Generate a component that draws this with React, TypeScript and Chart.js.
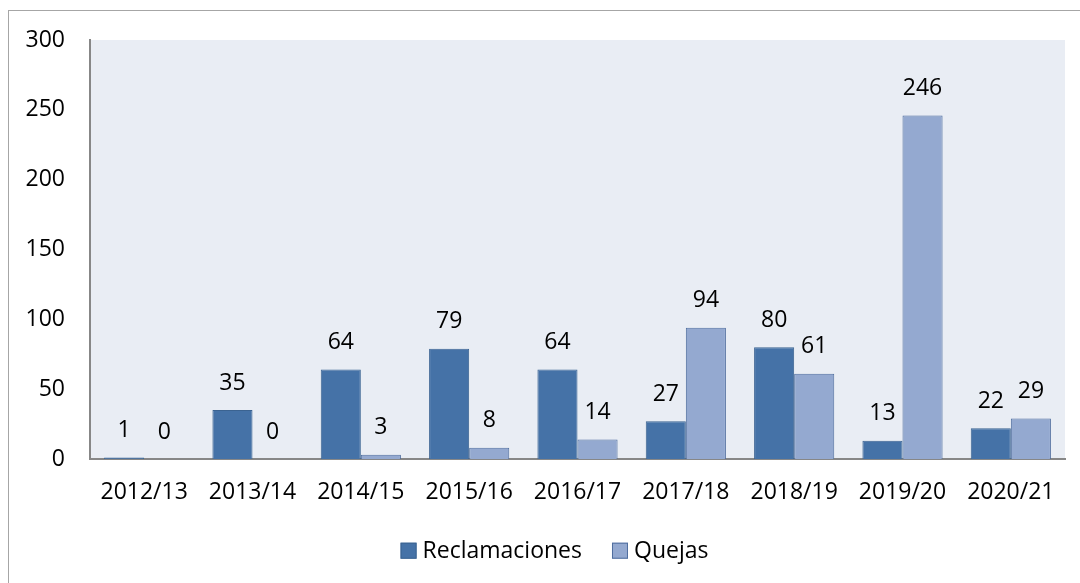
import React, { useEffect, useRef } from "react";
import { Chart, registerables } from "chart.js";

Chart.register(...registerables);

const categories = ["2012/13", "2013/14", "2014/15", "2015/16", "2016/17", "2017/18", "2018/19", "2019/20", "2020/21"];
const reclamaciones = [1, 35, 64, 79, 64, 27, 80, 13, 22];
const quejas = [0, 0, 3, 8, 14, 94, 61, 246, 29];

const FONT = "'Open Sans', 'Noto Sans', sans-serif";
const FS = 23;

const bgPlugin = {
  id: "plotBg",
  beforeDraw(chart: any) {
    const { ctx, chartArea } = chart;
    ctx.save();
    ctx.fillStyle = "#E9EDF4";
    ctx.fillRect(chartArea.left, chartArea.top, chartArea.right - chartArea.left, chartArea.bottom - chartArea.top);
    ctx.restore();
  },
};

const labelPlugin = {
  id: "barLabels",
  afterDatasetsDraw(chart: any) {
    const { ctx } = chart;
    ctx.save();
    ctx.font = `${FS}px ${FONT}`;
    ctx.fillStyle = "#000";
    ctx.textAlign = "center";
    ctx.textBaseline = "middle";
    chart.data.datasets.forEach((ds: any, i: number) => {
      const meta = chart.getDatasetMeta(i);
      meta.data.forEach((el: any, j: number) => {
        ctx.fillText(String(ds.data[j]), el.x, el.y - 27);
      });
    });
    ctx.restore();
  },
};

// Legend drawn below the axis, Excel-style (tight box-to-text gap)
const legendPlugin = {
  id: "bottomLegend",
  afterDraw(chart: any) {
    const { ctx, width } = chart;
    const box = 16;
    const gapText = 6;
    const gapItem = 30;
    ctx.save();
    ctx.font = `${FS}px ${FONT}`;
    const items = chart.data.datasets.map((ds: any) => ({
      label: ds.label,
      fill: ds.backgroundColor,
      stroke: ds.borderColor,
      w: ctx.measureText(ds.label).width,
    }));
    const total = items.reduce((s: number, it: any) => s + box + gapText + it.w, 0) + gapItem * (items.length - 1);
    let x = width / 2 + 10.5 - total / 2;
    const cy = chart.scales.x.bottom + 41.7;
    ctx.textBaseline = "middle";
    ctx.textAlign = "left";
    items.forEach((it: any) => {
      ctx.fillStyle = it.fill;
      ctx.fillRect(x, cy - box / 2, box, box);
      ctx.strokeStyle = it.stroke;
      ctx.lineWidth = 1;
      ctx.strokeRect(x + 0.5, cy - box / 2 + 0.5, box - 1, box - 1);
      x += box + gapText;
      ctx.fillStyle = "#000";
      ctx.fillText(it.label, x, cy + 1);
      x += it.w + gapItem;
    });
    ctx.restore();
  },
};

export default function App() {
  const ref = useRef<HTMLCanvasElement>(null);
  useEffect(() => {
    if (!ref.current) return;
    const chart = new Chart(ref.current, {
      type: "bar",
      data: {
        labels: categories,
        datasets: [
          {
            label: "Reclamaciones",
            data: reclamaciones,
            backgroundColor: "#4572A7",
            borderColor: "#3B6391",
            borderWidth: 1,
            categoryPercentage: 0.74,
            barPercentage: 1,
          },
          {
            label: "Quejas",
            data: quejas,
            backgroundColor: "#94A9D0",
            borderColor: "#4F6E9E",
            borderWidth: 1,
            categoryPercentage: 0.74,
            barPercentage: 1,
          },
        ],
      },
      options: {
        animation: false,
        responsive: true,
        maintainAspectRatio: false,
        layout: { padding: { top: 29, right: 14, bottom: 74, left: 0 } },
        plugins: {
          legend: { display: false },
          tooltip: { enabled: false },
        },
        scales: {
          x: {
            grid: { display: false, drawTicks: false },
            border: { display: true, color: "#878787", width: 2 },
            ticks: { font: { family: FONT, size: FS }, color: "#000", padding: 20, maxRotation: 0 },
            afterFit(scale: any) {
              scale.height = 50;
            },
          },
          y: {
            min: 0,
            max: 300,
            grid: { display: false, drawTicks: false },
            border: { display: true, color: "#878787", width: 2 },
            ticks: { stepSize: 50, font: { family: FONT, size: FS }, color: "#000", padding: 25 },
            afterFit(scale: any) {
              scale.width = 81;
              scale.paddingTop = 10;
              scale.paddingBottom = 10;
            },
          },
        },
      },
      plugins: [bgPlugin, labelPlugin, legendPlugin],
    });
    return () => chart.destroy();
  }, []);
  return (
    <div
      style={{
        position: "absolute",
        left: 8,
        top: 10,
        width: 1090,
        height: 590,
        border: "1px solid #A6A6A6",
        boxSizing: "border-box",
        background: "#fff",
      }}
    >
      <div style={{ position: "absolute", left: 0, top: 0, width: 1070, height: 572 }}>
        <canvas ref={ref} />
      </div>
    </div>
  );
}
